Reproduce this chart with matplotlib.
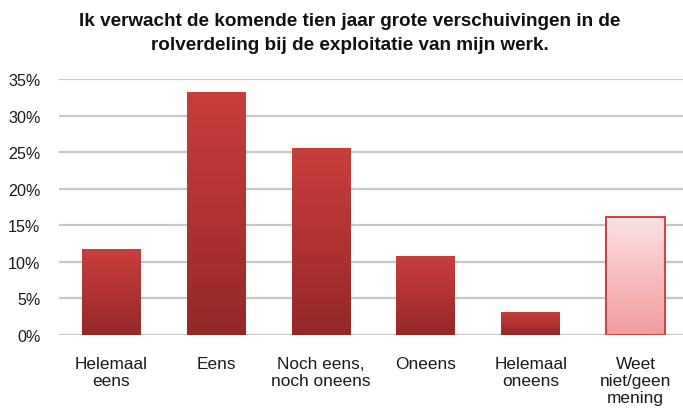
import numpy as np
import matplotlib
matplotlib.use("Agg")
import matplotlib.pyplot as plt
from matplotlib.colors import LinearSegmentedColormap

plt.rcParams['font.family'] = ['Liberation Sans', 'DejaVu Sans']

categories = ["Helemaal\neens", "Eens", "Noch eens,\nnoch oneens", "Oneens",
              "Helemaal\noneens", "Weet\nniet/geen\nmening"]
values = [0.117, 0.332, 0.256, 0.108, 0.031, 0.162]
yticks = [0, 0.05, 0.10, 0.15, 0.20, 0.25, 0.30, 0.35]
ytick_labels = ["0%", "5%", "10%", "15%", "20%", "25%", "30%", "35%"]
title_lines = ["Ik verwacht de komende tien jaar grote verschuivingen in de",
               "rolverdeling bij de exploitatie van mijn werk."]

W, H = 683, 410
fig = plt.figure(figsize=(W / 100, H / 100), dpi=100)
ax = fig.add_axes([58.5 / W, 1 - 336 / H, (683 - 58.5) / W, (336 - 80) / H])

x = np.arange(len(categories))
bars = ax.bar(x, values, width=0.56, color='none', edgecolor='none', zorder=3)

red_cmap = LinearSegmentedColormap.from_list("red", ["#952827", "#C93E3C"])
pink_cmap = LinearSegmentedColormap.from_list("pink", ["#F39C9C", "#FBE2E4"])
grad = np.linspace(0, 1, 256).reshape(-1, 1)

for i, b in enumerate(bars):
    x0, y0 = b.get_x(), b.get_y()
    w, h = b.get_width(), b.get_height()
    cmap = pink_cmap if i == len(bars) - 1 else red_cmap
    im = ax.imshow(grad, cmap=cmap, origin='lower', aspect='auto',
                   extent=[x0, x0 + w, y0, y0 + h], zorder=3)
    im.set_clip_path(b)
    if i == len(bars) - 1:
        b.set_edgecolor("#C8484A")
        b.set_linewidth(1.5)
        b.set_zorder(4)

ax.set_xlim(-0.5, 5.45)
ax.set_ylim(0, 0.35)
ax.set_yticks(yticks)
ax.set_yticklabels(ytick_labels, fontsize=11.6)
ax.set_xticks(x)
ax.set_xticklabels(categories, linespacing=1.17, fontsize=12.4)
ax.tick_params(axis='both', length=0, colors='#1a1a1a')
ax.tick_params(axis='y', pad=13)
ax.tick_params(axis='x', pad=15)

ax.grid(axis='y', color='#C8C8C8', linewidth=1.6, zorder=1)
ax.set_axisbelow(True)
for s in ax.spines.values():
    s.set_visible(False)

fig.text(350 / W, 1 - 26 / H, title_lines[0], ha='center', va='baseline',
         fontsize=13.6, fontweight='bold', color='#111111')
fig.text(350 / W, 1 - 50 / H, title_lines[1], ha='center', va='baseline',
         fontsize=13.6, fontweight='bold', color='#111111')

fig.savefig("out.png", dpi=100)
